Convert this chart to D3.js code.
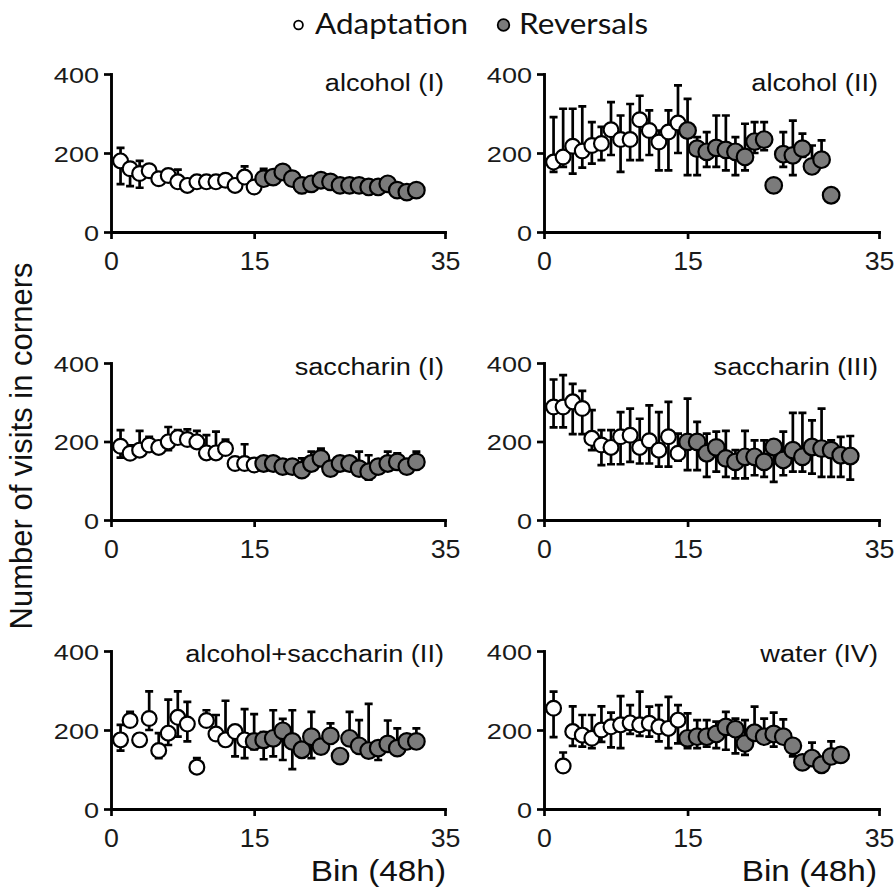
<!DOCTYPE html>
<html><head><meta charset="utf-8">
<script src="https://cdn.jsdelivr.net/npm/d3@7"></script>
<style>body{margin:0;background:#fff} svg{display:block}</style>
</head><body>
<svg id="c" width="894" height="887"></svg>
<script>
// ---------- DATA ----------
const panelTitles = ["alcohol (I)", "alcohol (II)", "saccharin (I)", "saccharin (III)", "alcohol+saccharin (II)", "water (IV)"];
const xTicks = [0, 15, 35];
const yTicks = [0, 200, 400];
const legendLabels = ["Adaptation", "Reversals"];
const xAxisTitle = "Bin (48h)";
const yAxisTitle = "Number of visits in corners";

// alcohol (I)
const alcI_nAdapt = 15;
const alcI_mean = [180,160,148,155,135,143,127,118,127,127,127,131,118,139,114, 135,139,152,135,118,122,131,127,118,118,118,114,114,122,106,101,106];
const alcI_up   = [33,10,32,8,6,8,31,8,8,8,8,8,8,27,8, 25,10,8,8,12,17,15,12,8,8,8,10,14,12,8,6,5];
const alcI_dn   = [59,44,36,8,6,8,10,8,8,8,8,8,8,10,8, 8,8,8,8,19,12,10,8,8,8,8,10,12,8,8,6,5];

// alcohol (II)
const alcII_nAdapt = 14;
const alcII_mean = [177,190,217,205,219,224,259,234,234,284,257,228,253,276, 257,211,203,213,208,203,190,229,234,118,197,194,211,166,183,93];
const alcII_up   = [114,122,95,113,59,42,70,61,90,61,51,29,55,95, 80,29,50,82,87,37,84,49,44,7,56,88,38,53,49,7];
const alcII_dn   = [25,25,69,42,46,42,64,82,52,102,62,72,97,76, 113,67,38,48,52,59,34,29,27,18,32,50,21,18,13,12];

// saccharin (I)
const sacI_nAdapt = 15;
const sacI_mean = [188,170,178,191,185,199,210,205,199,171,171,182,144,144,140, 144,144,136,136,127,144,157,131,144,144,131,123,136,144,148,136,148];
const sacI_up   = [41,20,49,21,10,38,19,26,28,45,54,23,10,49,8, 8,8,8,8,30,30,25,8,8,8,43,42,12,30,22,10,26];
const sacI_dn   = [29,10,10,10,10,21,10,10,10,10,10,10,10,10,8, 8,8,8,8,10,10,10,8,8,8,17,20,10,10,10,10,12];

// saccharin (III)
const sacIII_nAdapt = 14;
const sacIII_mean = [288,288,301,284,208,191,185,212,216,185,202,178,212,170, 199,199,170,185,157,148,161,161,148,186,153,178,161,186,182,178,165,163];
const sacIII_up   = [70,81,46,45,72,38,44,63,68,73,90,97,89,50, 110,51,50,40,70,30,66,42,55,17,72,95,112,68,102,25,47,51];
const sacIII_dn   = [52,52,82,65,30,51,43,70,68,41,58,42,76,19, 72,72,60,62,47,42,55,47,38,89,39,55,38,68,72,68,55,60];

// alcohol+saccharin (II)
const alcSac_nAdapt = 14;
const alcSac_mean = [175,224,175,229,148,192,232,215,106,224,190,175,196,175, 171,175,179,198,171,150,183,158,185,134,179,160,148,154,165,154,171,171];
const alcSac_up   = [38,22,10,69,44,85,66,56,23,26,48,99,12,78, 69,20,71,30,79,15,63,15,32,10,67,65,118,15,59,50,10,33];
const alcSac_dn   = [27,10,10,29,19,30,49,44,8,10,10,10,63,46, 20,49,46,74,70,15,54,15,15,10,15,15,15,30,15,15,10,10];

// water (IV)
const water_nAdapt = 14;
const water_mean = [255,109,196,187,179,200,208,213,218,213,217,208,204,225, 179,183,183,190,208,202,166,193,183,190,183,160,118,129,112,133,137];
const water_up   = [42,34,64,51,59,60,36,73,45,84,42,55,80,38, 63,42,42,31,38,27,59,66,46,54,44,12,8,39,8,38,8];
const water_dn   = [73,5,36,29,25,30,52,59,28,28,34,37,50,59, 25,29,25,36,58,61,29,15,15,32,15,27,8,8,8,8,8];

const panels = [
  {title: panelTitles[0], n: alcI_nAdapt,   mean: alcI_mean,   up: alcI_up,   dn: alcI_dn},
  {title: panelTitles[1], n: alcII_nAdapt,  mean: alcII_mean,  up: alcII_up,  dn: alcII_dn},
  {title: panelTitles[2], n: sacI_nAdapt,   mean: sacI_mean,   up: sacI_up,   dn: sacI_dn},
  {title: panelTitles[3], n: sacIII_nAdapt, mean: sacIII_mean, up: sacIII_up, dn: sacIII_dn},
  {title: panelTitles[4], n: alcSac_nAdapt, mean: alcSac_mean, up: alcSac_up, dn: alcSac_dn},
  {title: panelTitles[5], n: water_nAdapt,  mean: water_mean,  up: water_up,  dn: water_dn}
];

// ---------- LAYOUT / STYLE ----------
const svg = d3.select('#c');
const FONT = "'Liberation Sans', Arimo, Arial, Helvetica, sans-serif";
const GRAY = '#7b7b7b';
const cols = [[111, 445], [544, 879]];
const rows = [[74, 232], [363, 520], [651, 809]];
const titleBase = [91, 375, 662];

function stretch(sel, f) {
  sel.each(function () {
    const w = this.getComputedTextLength();
    d3.select(this).attr('textLength', w * f).attr('lengthAdjust', 'spacingAndGlyphs');
  });
}

panels.forEach((p, i) => {
  const c = i % 2, r = Math.floor(i / 2);
  const x = d3.scaleLinear().domain([0, 35]).range(cols[c]);
  const y = d3.scaleLinear().domain([0, 400]).range([rows[r][1], rows[r][0]]);
  const g = svg.append('g');

  const ya = g.append('g').attr('transform', `translate(${cols[c][0]},0)`)
    .call(d3.axisLeft(y).tickValues(yTicks).tickSize(7).tickSizeOuter(0).tickPadding(5));
  const xa = g.append('g').attr('transform', `translate(0,${rows[r][1]})`)
    .call(d3.axisBottom(x).tickValues(xTicks).tickSize(7).tickSizeOuter(0).tickPadding(13));
  [ya, xa].forEach(a => {
    a.selectAll('path.domain').attr('stroke', '#000').attr('stroke-width', 2.9).attr('stroke-linecap', 'square');
    a.selectAll('.tick line').attr('stroke', '#000').attr('stroke-width', 2.7);
    a.selectAll('.tick text').attr('fill', '#1a1a1a').attr('font-family', FONT);
  });
  ya.selectAll('.tick text').attr('font-size', 22).attr('dy', '0.38em');
  xa.selectAll('.tick text').attr('font-size', 25);
  stretch(ya.selectAll('.tick text'), 1.23);
  stretch(xa.selectAll('.tick text'), 1.07);

  // title
  const t = g.append('text').text(p.title)
    .attr('x', cols[c][1] - 1).attr('y', titleBase[r])
    .attr('text-anchor', 'end').attr('font-family', FONT).attr('font-size', 23).attr('fill', '#111');
  stretch(t, 1.18);

  const pts = p.mean.map((v, k) => ({bin: k + 1, v, up: p.up[k], dn: p.dn[k], phase: k < p.n ? 0 : 1}));
  [0, 1].forEach(ph => {
    const d = pts.filter(q => q.phase === ph);
    const eb = g.append('g').attr('stroke', '#000').attr('stroke-width', 2.7).attr('fill', 'none');
    eb.selectAll('path').data(d).join('path')
      .attr('d', q => {
        const cx = x(q.bin), yt = y(q.v + q.up), yb = y(q.v - q.dn);
        return `M${cx},${yt}V${yb}M${cx - 4},${yt}H${cx + 4}M${cx - 4},${yb}H${cx + 4}`;
      });
    g.append('g').selectAll('circle').data(d).join('circle')
      .attr('cx', q => x(q.bin)).attr('cy', q => y(q.v))
      .attr('r', ph === 0 ? 7.4 : 8.3)
      .attr('fill', ph === 0 ? '#fff' : GRAY)
      .attr('stroke', '#000').attr('stroke-width', 2.2);
  });
});

// axis titles
svg.append('text').text(yAxisTitle)
  .attr('transform', 'translate(32,446) rotate(-90)')
  .attr('text-anchor', 'middle').attr('font-family', FONT).attr('font-size', 31).attr('fill', '#111');
[cols[0][1] + 1, cols[1][1] - 2].forEach(xe => {
  const bt = svg.append('text').text(xAxisTitle)
    .attr('x', xe).attr('y', 881).attr('text-anchor', 'end')
    .attr('font-family', FONT).attr('font-size', 29).attr('fill', '#111');
  stretch(bt, 1.15);
});

// legend
const LFONT = "Lato, 'Open Sans', sans-serif";
svg.append('circle').attr('cx', 298.5).attr('cy', 25).attr('r', 4.4).attr('fill', '#fff').attr('stroke', '#000').attr('stroke-width', 1.8);
svg.append('circle').attr('cx', 503.5).attr('cy', 25).attr('r', 5.8).attr('fill', GRAY).attr('stroke', '#000').attr('stroke-width', 1.8);
svg.append('text').text(legendLabels[0]).attr('x', 315).attr('y', 34)
  .attr('font-family', LFONT).attr('font-size', 28).attr('fill', '#111')
  .attr('textLength', 153).attr('lengthAdjust', 'spacingAndGlyphs');
svg.append('text').text(legendLabels[1]).attr('x', 519).attr('y', 34)
  .attr('font-family', LFONT).attr('font-size', 28).attr('fill', '#111')
  .attr('textLength', 129).attr('lengthAdjust', 'spacingAndGlyphs');
</script>
</body></html>
